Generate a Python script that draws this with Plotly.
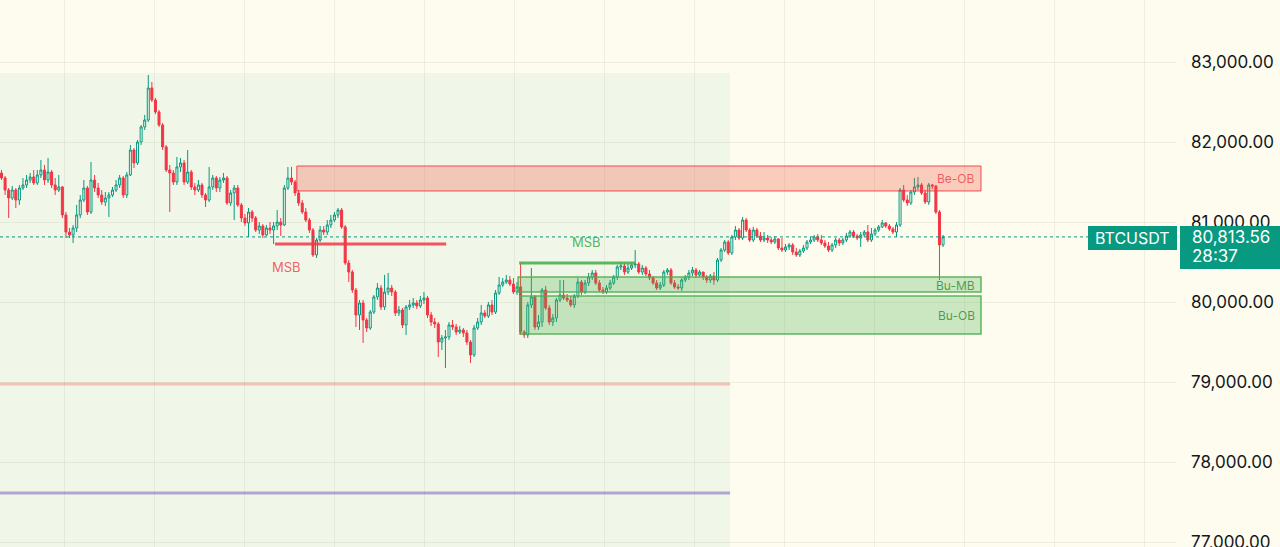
import plotly.graph_objects as go

# ---------------- data (BTCUSDT candles) ----------------
first_open = 81613
close = [
81550, 81400, 81300, 81400, 81275, 81425, 81463, 81525, 81563, 81488,
81588, 81650, 81525, 81625, 81463, 81400, 81438, 81088, 80875, 80838,
80925, 81088, 81275, 81425, 81125, 81525, 81425, 81338, 81250, 81300,
81338, 81400, 81463, 81550, 81338, 81588, 81900, 81738, 82000, 82188,
82275, 82675, 82525, 82375, 82213, 81938, 81650, 81613, 81500, 81688,
81738, 81500, 81625, 81438, 81400, 81463, 81338, 81275, 81438, 81550,
81425, 81525, 81550, 81238, 81363, 81425, 81213, 81050, 80988, 81125,
81050, 80900, 80950, 80838, 80925, 80900, 80950, 81000, 80963, 81425,
81550, 81500, 81363, 81238, 81125, 81025, 80900, 80588, 80775, 80900,
80875, 80963, 81025, 81088, 81150, 80938, 80488, 80375, 80150, 79838,
79988, 79775, 79675, 79875, 80063, 80175, 79938, 80125, 80175, 80125,
79863, 79900, 79713, 79938, 79963, 79988, 79950, 80025, 80050, 79838,
79750, 79725, 79500, 79550, 79563, 79713, 79688, 79625, 79650, 79613,
79500, 79338, 79675, 79750, 79863, 79825, 79963, 79875, 80113, 80213,
80250, 80275, 80225, 80125, 80188, 79625, 79588, 79963, 80063, 79688,
79750, 80150, 79925, 79750, 79800, 80025, 80088, 80050, 80025, 79963,
80075, 80250, 80125, 80238, 80313, 80363, 80238, 80150, 80125, 80175,
80238, 80313, 80438, 80450, 80375, 80425, 80463, 80475, 80375, 80425,
80350, 80300, 80238, 80175, 80213, 80375, 80400, 80238, 80188, 80175,
80275, 80313, 80363, 80400, 80338, 80375, 80313, 80275, 80325, 80275,
80525, 80650, 80750, 80613, 80813, 80900, 80800, 81025, 80900, 80775,
80900, 80825, 80775, 80800, 80775, 80750, 80788, 80675, 80650, 80688,
80713, 80625, 80588, 80638, 80675, 80750, 80775, 80813, 80775, 80738,
80700, 80650, 80713, 80775, 80738, 80775, 80825, 80875, 80825, 80800,
80838, 80875, 80775, 80850, 80900, 80938, 80988, 80950, 80913, 80875,
80963, 81400, 81275, 81238, 81375, 81438, 81463, 81363, 81250, 81463,
81450, 81125, 80713, 80813.56,
]
high = [
81650, 81575, 81425, 81450, 81425, 81463, 81550, 81588, 81613, 81650,
81650, 81775, 81713, 81800, 81650, 81550, 81588, 81450, 81125, 80925,
80963, 81213, 81338, 81525, 81450, 81750, 81588, 81488, 81400, 81375,
81375, 81438, 81525, 81588, 81575, 81625, 81963, 81925, 82025, 82213,
82338, 82838, 82750, 82550, 82400, 82238, 81963, 81713, 81650, 81813,
81800, 81775, 81900, 81650, 81488, 81525, 81488, 81363, 81688, 81588,
81575, 81563, 81613, 81575, 81400, 81463, 81463, 81238, 81100, 81175,
81150, 81075, 81000, 80975, 80963, 81000, 81000, 81150, 81050, 81463,
81688, 81688, 81525, 81400, 81275, 81175, 81050, 80925, 80800, 80950,
80950, 81025, 81088, 81125, 81175, 81175, 80963, 80525, 80400, 80175,
80025, 80025, 79800, 79900, 80088, 80238, 80213, 80338, 80363, 80213,
80150, 79950, 79925, 79963, 80025, 80050, 80025, 80075, 80125, 80075,
79875, 79800, 79750, 79588, 79650, 79750, 79775, 79725, 79700, 79675,
79650, 79525, 79713, 79800, 79963, 79900, 80000, 80025, 80150, 80313,
80300, 80338, 80325, 80300, 80250, 80488, 79650, 80000, 80425, 80088,
79838, 80175, 80200, 79963, 79850, 80050, 80275, 80275, 80100, 80075,
80100, 80300, 80275, 80275, 80363, 80400, 80400, 80275, 80188, 80213,
80275, 80338, 80463, 80500, 80488, 80475, 80500, 80650, 80500, 80463,
80450, 80400, 80325, 80275, 80250, 80400, 80425, 80425, 80275, 80225,
80300, 80338, 80400, 80438, 80425, 80400, 80375, 80338, 80350, 80375,
80550, 80675, 80775, 80775, 80838, 80950, 80925, 81063, 81050, 80925,
80938, 80925, 80875, 80875, 80838, 80813, 80825, 80800, 80800, 80725,
80738, 80738, 80675, 80663, 80713, 80775, 80813, 80838, 80850, 80838,
80775, 80750, 80738, 80800, 80800, 80800, 80863, 80900, 80900, 80850,
80875, 80900, 80963, 80925, 80925, 80963, 81025, 81000, 80975, 80938,
81000, 81425, 81463, 81338, 81400, 81550, 81563, 81488, 81400, 81488,
81475, 81463, 81150, 80838,
]
low = [
81525, 81338, 81050, 81275, 81175, 81213, 81400, 81425, 81488, 81463,
81463, 81550, 81463, 81488, 81425, 81338, 81375, 81050, 80800, 80800,
80738, 80875, 81050, 81250, 81088, 81100, 81375, 81300, 81213, 81200,
81063, 81313, 81375, 81425, 81300, 81300, 81575, 81675, 81713, 81963,
82150, 82250, 82500, 82350, 82188, 81900, 81625, 81125, 81463, 81463,
81625, 81463, 81475, 81400, 81338, 81375, 81300, 81188, 81250, 81400,
81375, 81375, 81488, 81213, 81200, 81025, 81188, 81000, 80950, 80813,
81000, 80875, 80850, 80800, 80825, 80850, 80725, 80900, 80825, 80950,
81400, 81463, 81325, 81200, 81100, 81000, 80863, 80563, 80550, 80750,
80838, 80838, 80925, 81000, 81050, 80913, 80463, 80250, 80113, 79688,
79650, 79488, 79625, 79650, 79850, 80025, 79900, 79900, 80088, 80075,
79825, 79825, 79675, 79588, 79900, 79925, 79913, 79925, 79975, 79800,
79700, 79675, 79313, 79400, 79175, 79525, 79650, 79588, 79600, 79563,
79463, 79238, 79313, 79650, 79713, 79800, 79800, 79838, 79850, 80088,
80188, 80225, 80200, 80100, 80088, 79588, 79550, 79550, 79925, 79650,
79650, 79688, 79900, 79713, 79700, 79750, 80000, 80025, 80000, 79938,
79925, 80050, 80088, 80100, 80200, 80275, 80213, 80125, 80100, 80100,
80150, 80213, 80275, 80400, 80338, 80350, 80400, 80425, 80350, 80338,
80325, 80275, 80213, 80150, 80150, 80188, 80338, 80213, 80163, 80150,
80138, 80250, 80275, 80325, 80300, 80313, 80275, 80238, 80238, 80213,
80250, 80500, 80625, 80588, 80588, 80775, 80775, 80775, 80875, 80750,
80750, 80800, 80750, 80750, 80738, 80725, 80725, 80650, 80625, 80625,
80650, 80588, 80563, 80563, 80613, 80650, 80725, 80750, 80750, 80713,
80675, 80625, 80625, 80675, 80700, 80713, 80750, 80800, 80800, 80775,
80688, 80813, 80750, 80750, 80825, 80875, 80925, 80925, 80888, 80850,
80813, 80938, 81250, 81200, 81213, 81338, 81400, 81338, 81225, 81213,
81413, 81100, 80275, 80688,
]

n = min(len(close), len(high), len(low))
close, high, low = close[:n], high[:n], low[:n]
open_ = [first_open] + close[:-1]
idx = list(range(n))

y_ticks = [77000, 78000, 79000, 80000, 81000, 82000, 83000]
last_price_text = "80,813.56"
countdown_text = "28:37"
symbol = "BTCUSDT"

# indicator levels (price) and spans (candle index)
range_box = dict(x1=203.5, top=82862)
red_level = 78975
purple_level = 77612
be_ob = dict(x0=82.5, x1=273.6, y0=81388, y1=81700)
bu_mb = dict(x0=144.3, x1=273.6, y0=80125, y1=80313)
bu_ob = dict(x0=144.8, x1=273.6, y0=79600, y1=80075)
msb_bear = dict(x0=76.4, x1=124.2, y=80725)
msb_bull = dict(x0=144.6, x1=177.0, y=80488)

# ---------------- style ----------------
BG = "#fdfcee"
REGION = "#f1f7e8"
GRID = "rgba(90,90,40,0.08)"
UP = "#089981"
DOWN = "#f23645"
FONT = "Inter"

fig = go.Figure()
fig.add_trace(go.Candlestick(
    x=idx, open=open_, high=high, low=low, close=close,
    increasing=dict(line=dict(color=UP, width=1), fillcolor="rgba(0,0,0,0)"),
    decreasing=dict(line=dict(color=DOWN, width=1), fillcolor=DOWN),
    whiskerwidth=0, hoverinfo="skip",
))

shapes = []
# shaded range region
shapes.append(dict(type="rect", xref="x", yref="y", x0=-5, x1=range_box["x1"],
                   y0=76000, y1=range_box["top"], fillcolor=REGION, line=dict(width=0), layer="below"))
shapes.append(dict(type="line", xref="x", yref="y", x0=-5, x1=range_box["x1"], y0=red_level, y1=red_level,
                   line=dict(color="rgba(242,54,69,0.28)", width=3), layer="between"))
shapes.append(dict(type="line", xref="x", yref="y", x0=-5, x1=range_box["x1"], y0=purple_level, y1=purple_level,
                   line=dict(color="rgba(120,100,190,0.55)", width=3), layer="between"))
# order blocks
shapes.append(dict(type="rect", xref="x", yref="y", x0=be_ob["x0"], x1=be_ob["x1"], y0=be_ob["y0"], y1=be_ob["y1"],
                   fillcolor="rgba(242,80,60,0.28)", line=dict(color="rgba(242,54,69,0.9)", width=1), layer="above"))
shapes.append(dict(type="rect", xref="x", yref="y", x0=bu_mb["x0"], x1=bu_mb["x1"], y0=bu_mb["y0"], y1=bu_mb["y1"],
                   fillcolor="rgba(76,175,80,0.28)", line=dict(color="rgba(76,175,80,0.9)", width=1.5), layer="above"))
shapes.append(dict(type="rect", xref="x", yref="y", x0=bu_ob["x0"], x1=bu_ob["x1"], y0=bu_ob["y0"], y1=bu_ob["y1"],
                   fillcolor="rgba(76,175,80,0.28)", line=dict(color="rgba(76,175,80,0.9)", width=1.5), layer="above"))
# MSB lines
shapes.append(dict(type="line", xref="x", yref="y", x0=msb_bear["x0"], x1=msb_bear["x1"], y0=msb_bear["y"], y1=msb_bear["y"],
                   line=dict(color="rgba(242,54,69,0.85)", width=3), layer="above"))
shapes.append(dict(type="line", xref="x", yref="y", x0=msb_bull["x0"], x1=msb_bull["x1"], y0=msb_bull["y"], y1=msb_bull["y"],
                   line=dict(color="rgba(76,175,80,0.9)", width=3), layer="above"))
# current price dotted line
last = close[-1]
shapes.append(dict(type="line", xref="paper", yref="y", x0=0, x1=1088 / 1176, y0=last, y1=last,
                   line=dict(color=UP, width=1, dash="dot"), layer="above"))
# price-scale labels
shapes.append(dict(type="rect", xref="paper", yref="y", x0=1088 / 1176, x1=1177 / 1176,
                   y0=80650, y1=80950, fillcolor=UP, line=dict(width=0), layer="above"))
shapes.append(dict(type="rect", xref="paper", yref="y", x0=1180 / 1176, x1=1290 / 1176,
                   y0=80412, y1=80950, fillcolor=UP, line=dict(width=0), layer="above"))

ann = []
def label(x, y, text, color, size, xanchor="center", xref="x"):
    ann.append(dict(x=x, y=y, xref=xref, yref="y", text=text, showarrow=False, xanchor=xanchor,
                    yanchor="middle", font=dict(family=FONT, size=size, color=color)))

label(272.6, (be_ob["y0"] + be_ob["y1"]) / 2, "Be-OB", "rgba(242,54,69,0.75)", 12, "right")
label(272.6, (bu_mb["y0"] + bu_mb["y1"]) / 2 - 10, "Bu-MB", "rgba(56,142,60,0.85)", 12, "right")
label(272.6, (bu_ob["y0"] + bu_ob["y1"]) / 2, "Bu-OB", "rgba(56,142,60,0.85)", 12, "right")
label(163.3, 80750, "MSB", "rgba(76,175,80,0.95)", 13)
label(79.5, 80438, "MSB", "rgba(242,54,69,0.8)", 13)
label(1132 / 1176, 80800, symbol, "#ffffff", 16, "center", "paper")
label(1190 / 1176, 80810, last_price_text, "#ffffff", 17, "left", "paper")
label(1190 / 1176, 80575, countdown_text, "#ffffff", 17, "left", "paper")

fig.update_layout(
    template="none",
    width=1280, height=547,
    margin=dict(l=0, r=104, t=0, b=0, pad=0),
    paper_bgcolor=BG, plot_bgcolor=BG,
    showlegend=False,
    boxgap=0.2,
    shapes=shapes, annotations=ann,
    hovermode=False,
    xaxis=dict(range=[-0.42, 328.07], rangeslider=dict(visible=False), showticklabels=False,
               showgrid=True, gridcolor=GRID, gridwidth=1, tick0=17.6, dtick=25.14,
               zeroline=False, showline=False, ticks="", automargin=False, fixedrange=True),
    yaxis=dict(range=[76937.5, 83775], side="right", tickmode="array", tickvals=y_ticks,
               tickformat=",.2f", showgrid=True, gridcolor=GRID, gridwidth=1,
               zeroline=False, showline=False, ticks="", automargin=False,
               tickfont=dict(family=FONT, size=17, color="#131722"), ticklabelstandoff=14,
               ticklabeloverflow="allow", fixedrange=True),
)

fig.write_html("out.html", config={"displayModeBar": False, "staticPlot": True})
